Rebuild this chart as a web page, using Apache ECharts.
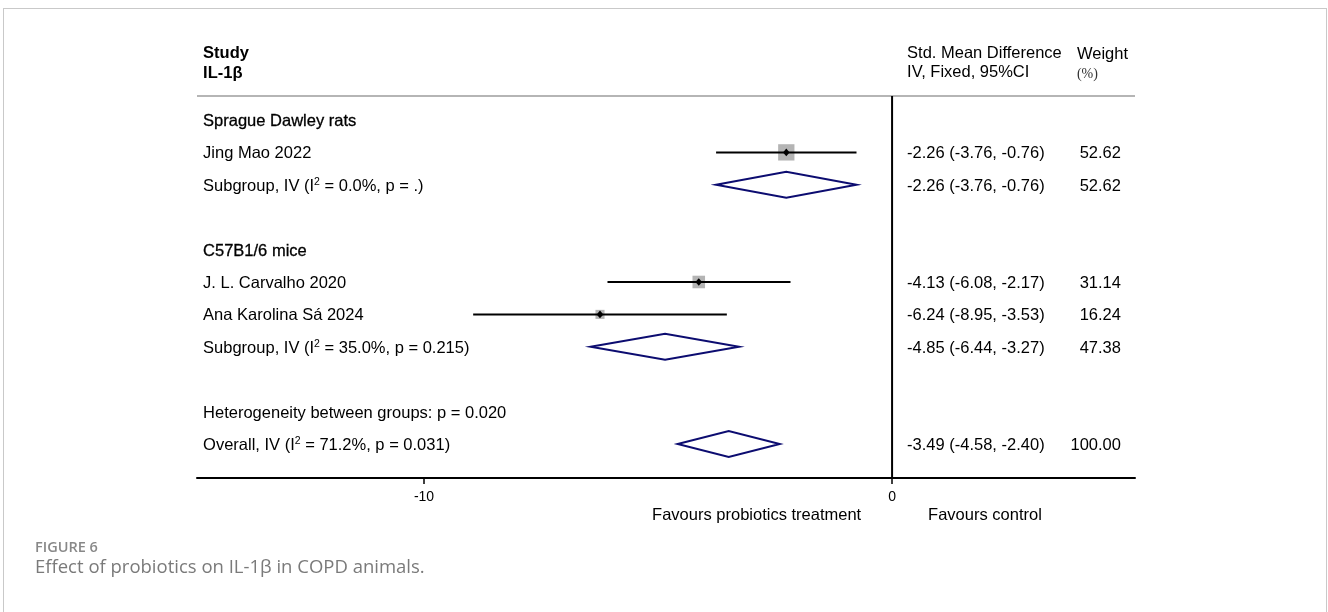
<!DOCTYPE html>
<html><head><meta charset="utf-8">
<script src="https://cdn.jsdelivr.net/npm/echarts@6/dist/echarts.min.js"></script>
<style>
html,body{margin:0;padding:0;background:#fff;}
#frame{position:absolute;left:3px;top:8px;width:1324px;height:700px;border:1px solid #c9c9c9;box-sizing:border-box;}
#chart{position:absolute;left:0;top:0;width:1328px;height:612px;}
</style></head><body>
<div id="frame"></div>
<div id="chart"></div>
<script>
// ---------------- data ----------------
const studyNames   = ['Jing Mao 2022', 'J. L. Carvalho 2020', 'Ana Karolina Sá 2024'];
const studyGroup   = [0, 1, 1];
const studySMD     = [-2.26, -4.13, -6.24];
const studyLower   = [-3.76, -6.08, -8.95];
const studyUpper   = [-0.76, -2.17, -3.53];
const studyWeight  = [52.62, 31.14, 16.24];

const groupNames   = ['Sprague Dawley rats', 'C57B1/6 mice'];
const groupSMD     = [-2.26, -4.85];
const groupLower   = [-3.76, -6.44];
const groupUpper   = [-0.76, -3.27];
const groupWeight  = [52.62, 47.38];
const groupI2      = ['0.0%', '35.0%'];
const groupP       = ['.', '0.215'];

const overallSMD   = -3.49;
const overallLower = -4.58;
const overallUpper = -2.40;
const overallWeight = 100.00;
const overallI2    = '71.2%';
const overallP     = '0.031';
const heterogeneityP = '0.020';

const xTickValues  = [-10, 0];
const xTickLabels  = ['-10', '0'];

// ---------------- layout ----------------
const X_MIN = -14.85, X_MAX = 5.19;
const Y_MIN = -0.74, Y_MAX = 11.05;
const COL_STUDY = -14.72, COL_CI = 0.32, COL_W = 4.89, COL_WH = 3.95;
const FONT = '"Liberation Sans", Arial, sans-serif';
const FS = 16.5;
const TEXT_DY = 1.5;

// build rows
const fmt = v => v.toFixed(2);
const ciText = (e, l, u) => fmt(e) + ' (' + fmt(l) + ', ' + fmt(u) + ')';
const texts = [];
const studyPts = [];
const diamonds = [];
let row = 0;
groupNames.forEach((g, gi) => {
  texts.push({x: COL_STUDY, row: row, text: g, group: true});
  row++;
  studyNames.forEach((s, si) => {
    if (studyGroup[si] !== gi) return;
    texts.push({x: COL_STUDY, row: row, text: s});
    texts.push({x: COL_CI, row: row, text: ciText(studySMD[si], studyLower[si], studyUpper[si])});
    texts.push({x: COL_W, row: row, text: fmt(studyWeight[si]), align: 'right'});
    studyPts.push([studySMD[si], studyLower[si], studyUpper[si], studyWeight[si], row]);
    row++;
  });
  texts.push({x: COL_STUDY, row: row, text: 'Subgroup, IV (I{s|2} = ' + groupI2[gi] + ', p = ' + groupP[gi] + ')', rich: true});
  texts.push({x: COL_CI, row: row, text: ciText(groupSMD[gi], groupLower[gi], groupUpper[gi])});
  texts.push({x: COL_W, row: row, text: fmt(groupWeight[gi]), align: 'right'});
  diamonds.push([groupSMD[gi], groupLower[gi], groupUpper[gi], row]);
  row += 2;
});
texts.push({x: COL_STUDY, row: row, text: 'Heterogeneity between groups: p = ' + heterogeneityP});
row++;
texts.push({x: COL_STUDY, row: row, text: 'Overall, IV (I{s|2} = ' + overallI2 + ', p = ' + overallP + ')', rich: true});
texts.push({x: COL_CI, row: row, text: ciText(overallSMD, overallLower, overallUpper)});
texts.push({x: COL_W, row: row, text: fmt(overallWeight), align: 'right'});
diamonds.push([overallSMD, overallLower, overallUpper, row]);

// headers
texts.push({x: COL_STUDY, row: -2.1, text: 'Study', bold: true});
texts.push({x: COL_STUDY, row: -1.47, text: 'IL-1β', bold: true});
texts.push({x: COL_CI, row: -2.1, text: 'Std. Mean Difference'});
texts.push({x: COL_CI, row: -1.5, text: 'IV, Fixed, 95%CI'});
texts.push({x: COL_WH, row: -2.07, text: 'Weight'});
texts.push({x: COL_WH, row: -1.45, text: '(%)', serif: true});
texts.push({x: -0.66, row: 12.15, text: 'Favours probiotics treatment', align: 'right'});
texts.push({x: 0.77, row: 12.15, text: 'Favours control'});

const option = {
  animation: false,
  grid: {left: 197, right: 193, top: 96, bottom: 134},
  xAxis: {
    type: 'value', min: X_MIN, max: X_MAX,
    splitLine: {show: false},
    axisLine: {show: true, onZero: false, lineStyle: {color: '#000', width: 2}},
    axisTick: {show: true, length: 6, customValues: xTickValues, lineStyle: {color: '#000', width: 1.5}},
    axisLabel: {show: true, customValues: xTickValues, margin: 12, color: '#000', fontSize: 14, fontFamily: FONT,
      formatter: v => xTickLabels[xTickValues.indexOf(v)]}
  },
  yAxis: {type: 'value', min: Y_MIN, max: Y_MAX, inverse: true, show: false},
  series: [
    { // frame lines
      type: 'custom', silent: true, data: [[0, 0]],
      renderItem: (p, api) => {
        const a = api.coord([X_MIN, Y_MIN]), b = api.coord([X_MAX, Y_MIN]);
        const c = api.coord([0, Y_MIN]), d = api.coord([0, Y_MAX]);
        return {type: 'group', children: [
          {type: 'line', shape: {x1: a[0], y1: a[1], x2: b[0], y2: b[1]}, style: {stroke: '#b5b5b5', lineWidth: 2}},
          {type: 'line', shape: {x1: c[0], y1: c[1], x2: d[0], y2: d[1]}, style: {stroke: '#000', lineWidth: 2}}
        ]};
      }
    },
    { // studies
      type: 'custom', silent: true, data: studyPts,
      renderItem: (p, api) => {
        const e = api.value(0), l = api.value(1), u = api.value(2), w = api.value(3), r = api.value(4);
        const pl = api.coord([l, r]), pu = api.coord([u, r]), pe = api.coord([e, r]);
        const s = 2.25 * Math.sqrt(w);
        const m = 3.3;
        return {type: 'group', children: [
          {type: 'rect', shape: {x: pe[0] - s / 2, y: pe[1] - s / 2, width: s, height: s}, style: {fill: '#b4b4b4'}},
          {type: 'line', shape: {x1: pl[0], y1: pl[1], x2: pu[0], y2: pu[1]}, style: {stroke: '#000', lineWidth: 2}},
          {type: 'polygon', shape: {points: [[pe[0] - m, pe[1]], [pe[0], pe[1] - m - 0.5], [pe[0] + m, pe[1]], [pe[0], pe[1] + m + 0.5]]}, style: {fill: '#000'}}
        ]};
      }
    },
    { // diamonds
      type: 'custom', silent: true, data: diamonds,
      renderItem: (p, api) => {
        const e = api.value(0), l = api.value(1), u = api.value(2), r = api.value(3);
        const pl = api.coord([l, r]), pu = api.coord([u, r]), pe = api.coord([e, r]);
        const h = 13;
        return {type: 'polygon', shape: {points: [[pl[0], pl[1]], [pe[0], pe[1] - h], [pu[0], pu[1]], [pe[0], pe[1] + h]]},
          style: {fill: 'none', stroke: '#0c0c70', lineWidth: 2, lineJoin: 'miter'}};
      }
    },
    { // texts
      type: 'custom', silent: true, data: texts.map((t, i) => [t.x, t.row, i]),
      renderItem: (p, api) => {
        const t = texts[api.value(2)];
        const pt = api.coord([t.x, t.row]);
        const style = {
          text: t.text, fill: '#000', fontFamily: t.serif ? '"Liberation Serif", "Times New Roman", serif' : FONT,
          fontSize: t.serif ? 14 : FS, fontWeight: t.bold ? 'bold' : 'normal',
          align: t.align || 'left', verticalAlign: 'middle'
        };
        if (t.serif) style.fill = '#333';
        if (t.group) { style.stroke = '#000'; style.lineWidth = 0.3; }
        if (t.rich) {
          style.lineHeight = 20;
          style.rich = {s: {fontSize: 10.5, lineHeight: 11, verticalAlign: 'top', fontFamily: FONT, fill: '#000'}};
        }
        return {type: 'text', x: pt[0], y: pt[1] + TEXT_DY, style: style};
      }
    }
  ],
  graphic: [
    {type: 'text', left: 35, top: 540, style: {text: 'FIGURE 6', fill: '#888', fontSize: 14.5, fontWeight: 600, fontFamily: '"Open Sans", sans-serif'}},
    {type: 'text', left: 35, top: 558, style: {text: 'Effect of probiotics on IL-1β in COPD animals.', fill: '#7a7a7a', fontSize: 18.5, fontFamily: '"Open Sans", sans-serif'}}
  ]
};
const chart = echarts.init(document.getElementById('chart'), null, {renderer: 'canvas'});
chart.setOption(option);
</script>
</body></html>
